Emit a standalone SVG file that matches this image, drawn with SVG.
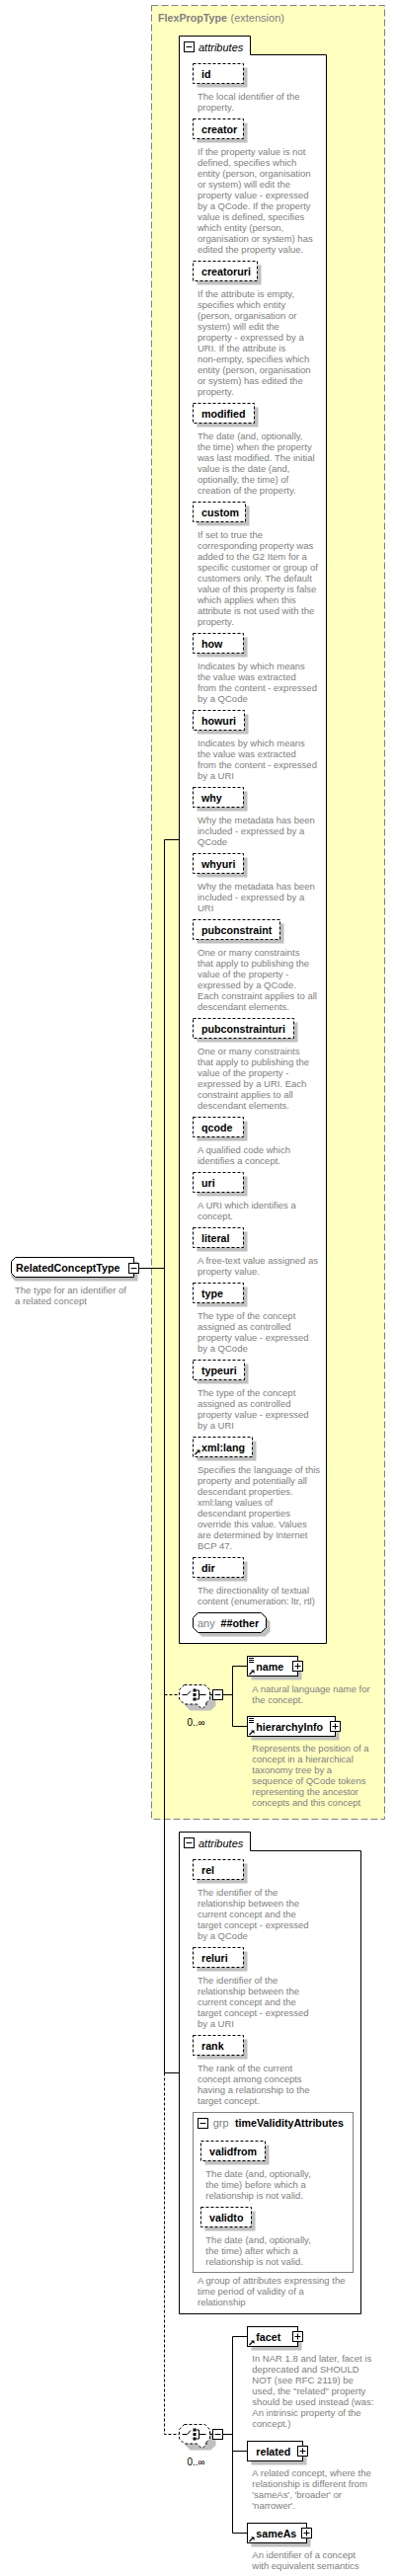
<svg xmlns="http://www.w3.org/2000/svg" xmlns:xlink="http://www.w3.org/1999/xlink" width="402" height="2609" viewBox="0 0 402 2609">
<style>
.ab{fill:#fff;stroke:#000;stroke-dasharray:3,2}
.el{fill:#fff;stroke:#000}
.sh{fill:#c0c0c0}
.ln{fill:none;stroke:#000}
.dl{fill:none;stroke:#000;stroke-dasharray:3,2}
.nm{font-family:"Liberation Sans",Arial,sans-serif;font-weight:bold;font-size:10.7px;fill:#000}
.ds{font-family:"Liberation Sans",Arial,sans-serif;font-size:9.5px;fill:#808080}
.it{font-family:"Liberation Sans",Arial,sans-serif;font-style:italic;font-size:11px;fill:#000}
.gr{font-family:"Liberation Sans",Arial,sans-serif;font-size:11px;fill:#808080}
.oc{font-family:"Liberation Sans",Arial,sans-serif;font-size:10px;fill:#000}
</style>
<defs>
<g id="plus"><rect x="0.5" y="0.5" width="10" height="10" fill="#fff" stroke="#000"/><path d="M2.5,5.5H8.5M5.5,2.5V8.5" stroke="#000"/></g>
<g id="minus"><rect x="0.5" y="0.5" width="10" height="10" fill="#fff" stroke="#000"/><path d="M2.5,5.5H8.5" stroke="#000"/></g>
<g id="arr"><path d="M0.5,5 L3.5,2" stroke="#000" stroke-width="1.2"/><path d="M2,0.5H5.5V4Z" fill="#000"/></g>
<g id="lines"><path d="M0,0.5H5M0,2.5H5M0,4.5H5" stroke="#000"/></g>
<g id="seq">
<path d="M186.5,-8.5H207.5L212.5,-3.5V5.5L207.5,10.5H186.5L181.5,5.5V-3.5Z" transform="translate(6,6)" class="sh"/>
<path d="M186.5,-9.5H207.5L212.5,-4.5V5L207.5,10H209.5L204.5,15L199.5,10H186.5L181.5,5V-4.5Z" fill="#fff" stroke="#000" stroke-dasharray="3,2"/>
<path d="M184.5,0.5H189.5L193,-3.5" class="ln"/>
<rect x="195.5" y="-5.5" width="3" height="3" fill="#000"/>
<rect x="195.5" y="-1" width="3" height="3" fill="#000"/>
<rect x="195.5" y="3.5" width="3" height="3" fill="#000"/>
<path d="M198.5,-4H201.5V5H198.5M201.5,0.5H208.5" class="ln"/>
<path d="M212.5,0.5H215.5" class="ln"/>
<use xlink:href="#minus" x="215" y="-5"/>
</g>
</defs>

<g id="FlexPropType">
<rect x="153.5" y="5.5" width="236" height="1837" fill="#ffffc0" stroke="#808080" stroke-dasharray="7,3"/>
<text x="160" y="22" class="nm" fill="#808080" style="fill:#808080">FlexPropType</text>
<text x="233.5" y="22" class="gr">(extension)</text>
</g>

<g id="connectors">
<path d="M140.5,1284.5H166.5" class="ln"/>
<path d="M166.5,850.5V2099.5M166.5,850.5H181.5M166.5,2099.5H181.5" class="ln"/>
<path d="M166.5,1716.5H181.5" class="dl"/>
<path d="M166.5,2099.5V2465.5H181.5" class="dl"/>
<path d="M225.5,1716.5H235.5M235.5,1687.5V1748.5M235.5,1687.5H250.5M235.5,1748.5H250.5" class="ln"/>
<path d="M225.5,2465.5H235.5M235.5,2366.5V2565.5M235.5,2366.5H250.5M235.5,2482.5H250.5M235.5,2565.5H250.5" class="ln"/>
</g>

<g id="RelatedConceptType">
<path d="M15.5,1277.5H139.5V1297.5H15.5L11.5,1293.5V1281.5Z" class="sh"/>
<path d="M15.5,1273.5H135.5V1293.5H15.5L11.5,1289.5V1277.5Z" class="el"/>
<text x="16" y="1288" class="nm">RelatedConceptType</text>
<use xlink:href="#minus" x="130" y="1279"/>
<text class="ds" x="15" y="1309.5">The type for an identifier of<tspan x="15" dy="11">a related concept</tspan></text>
</g>

<g id="attributes1">
<path d="M181.5,36.5H253.5V55.5H330.5V1664.5H181.5Z" class="el"/>
<use xlink:href="#minus" x="186" y="42"/>
<text x="201" y="51.5" class="it">attributes</text>
</g>

<g id="attr-id"><rect x="199.5" y="68.5" width="51" height="20" class="sh"/><rect x="195.5" y="64.5" width="51" height="20" class="ab"/><text x="204" y="79.2" class="nm">id</text>
<text class="ds" x="200" y="100.5">The local identifier of the<tspan x="200" dy="11">property.</tspan></text></g>

<g id="attr-creator"><rect x="199.5" y="124.5" width="51" height="20" class="sh"/><rect x="195.5" y="120.5" width="51" height="20" class="ab"/><text x="204" y="135.2" class="nm">creator</text>
<text class="ds" x="200" y="156.5">If the property value is not<tspan x="200" dy="11">defined, specifies which</tspan><tspan x="200" dy="11">entity (person, organisation</tspan><tspan x="200" dy="11">or system) will edit the</tspan><tspan x="200" dy="11">property value - expressed</tspan><tspan x="200" dy="11">by a QCode. If the property</tspan><tspan x="200" dy="11">value is defined, specifies</tspan><tspan x="200" dy="11">which entity (person,</tspan><tspan x="200" dy="11">organisation or system) has</tspan><tspan x="200" dy="11">edited the property value.</tspan></text></g>

<g id="attr-creatoruri"><rect x="199.5" y="268.5" width="65" height="20" class="sh"/><rect x="195.5" y="264.5" width="65" height="20" class="ab"/><text x="204" y="279.2" class="nm">creatoruri</text>
<text class="ds" x="200" y="300.5">If the attribute is empty,<tspan x="200" dy="11">specifies which entity</tspan><tspan x="200" dy="11">(person, organisation or</tspan><tspan x="200" dy="11">system) will edit the</tspan><tspan x="200" dy="11">property - expressed by a</tspan><tspan x="200" dy="11">URI. If the attribute is</tspan><tspan x="200" dy="11">non-empty, specifies which</tspan><tspan x="200" dy="11">entity (person, organisation</tspan><tspan x="200" dy="11">or system) has edited the</tspan><tspan x="200" dy="11">property.</tspan></text></g>

<g id="attr-modified"><rect x="199.5" y="412.5" width="62" height="20" class="sh"/><rect x="195.5" y="408.5" width="62" height="20" class="ab"/><text x="204" y="423.2" class="nm">modified</text>
<text class="ds" x="200" y="444.5">The date (and, optionally,<tspan x="200" dy="11">the time) when the property</tspan><tspan x="200" dy="11">was last modified. The initial</tspan><tspan x="200" dy="11">value is the date (and,</tspan><tspan x="200" dy="11">optionally, the time) of</tspan><tspan x="200" dy="11">creation of the property.</tspan></text></g>

<g id="attr-custom"><rect x="199.5" y="512.5" width="53" height="20" class="sh"/><rect x="195.5" y="508.5" width="53" height="20" class="ab"/><text x="204" y="523.2" class="nm">custom</text>
<text class="ds" x="200" y="544.5">If set to true the<tspan x="200" dy="11">corresponding property was</tspan><tspan x="200" dy="11">added to the G2 Item for a</tspan><tspan x="200" dy="11">specific customer or group of</tspan><tspan x="200" dy="11">customers only. The default</tspan><tspan x="200" dy="11">value of this property is false</tspan><tspan x="200" dy="11">which applies when this</tspan><tspan x="200" dy="11">attribute is not used with the</tspan><tspan x="200" dy="11">property.</tspan></text></g>

<g id="attr-how"><rect x="199.5" y="645.5" width="51" height="20" class="sh"/><rect x="195.5" y="641.5" width="51" height="20" class="ab"/><text x="204" y="656.2" class="nm">how</text>
<text class="ds" x="200" y="677.5">Indicates by which means<tspan x="200" dy="11">the value was extracted</tspan><tspan x="200" dy="11">from the content - expressed</tspan><tspan x="200" dy="11">by a QCode</tspan></text></g>

<g id="attr-howuri"><rect x="199.5" y="723.5" width="52" height="20" class="sh"/><rect x="195.5" y="719.5" width="52" height="20" class="ab"/><text x="204" y="734.2" class="nm">howuri</text>
<text class="ds" x="200" y="755.5">Indicates by which means<tspan x="200" dy="11">the value was extracted</tspan><tspan x="200" dy="11">from the content - expressed</tspan><tspan x="200" dy="11">by a URI</tspan></text></g>

<g id="attr-why"><rect x="199.5" y="801.5" width="51" height="20" class="sh"/><rect x="195.5" y="797.5" width="51" height="20" class="ab"/><text x="204" y="812.2" class="nm">why</text>
<text class="ds" x="200" y="833.5">Why the metadata has been<tspan x="200" dy="11">included - expressed by a</tspan><tspan x="200" dy="11">QCode</tspan></text></g>

<g id="attr-whyuri"><rect x="199.5" y="868.5" width="51" height="20" class="sh"/><rect x="195.5" y="864.5" width="51" height="20" class="ab"/><text x="204" y="879.2" class="nm">whyuri</text>
<text class="ds" x="200" y="900.5">Why the metadata has been<tspan x="200" dy="11">included - expressed by a</tspan><tspan x="200" dy="11">URI</tspan></text></g>

<g id="attr-pubconstraint"><rect x="199.5" y="935.5" width="88" height="20" class="sh"/><rect x="195.5" y="931.5" width="88" height="20" class="ab"/><text x="204" y="946.2" class="nm">pubconstraint</text>
<text class="ds" x="200" y="967.5">One or many constraints<tspan x="200" dy="11">that apply to publishing the</tspan><tspan x="200" dy="11">value of the property -</tspan><tspan x="200" dy="11">expressed by a QCode.</tspan><tspan x="200" dy="11">Each constraint applies to all</tspan><tspan x="200" dy="11">descendant elements.</tspan></text></g>

<g id="attr-pubconstrainturi"><rect x="199.5" y="1035.5" width="102" height="20" class="sh"/><rect x="195.5" y="1031.5" width="102" height="20" class="ab"/><text x="204" y="1046.2" class="nm">pubconstrainturi</text>
<text class="ds" x="200" y="1067.5">One or many constraints<tspan x="200" dy="11">that apply to publishing the</tspan><tspan x="200" dy="11">value of the property -</tspan><tspan x="200" dy="11">expressed by a URI. Each</tspan><tspan x="200" dy="11">constraint applies to all</tspan><tspan x="200" dy="11">descendant elements.</tspan></text></g>

<g id="attr-qcode"><rect x="199.5" y="1135.5" width="51" height="20" class="sh"/><rect x="195.5" y="1131.5" width="51" height="20" class="ab"/><text x="204" y="1146.2" class="nm">qcode</text>
<text class="ds" x="200" y="1167.5">A qualified code which<tspan x="200" dy="11">identifies a concept.</tspan></text></g>

<g id="attr-uri"><rect x="199.5" y="1191.5" width="51" height="20" class="sh"/><rect x="195.5" y="1187.5" width="51" height="20" class="ab"/><text x="204" y="1202.2" class="nm">uri</text>
<text class="ds" x="200" y="1223.5">A URI which identifies a<tspan x="200" dy="11">concept.</tspan></text></g>

<g id="attr-literal"><rect x="199.5" y="1247.5" width="51" height="20" class="sh"/><rect x="195.5" y="1243.5" width="51" height="20" class="ab"/><text x="204" y="1258.2" class="nm">literal</text>
<text class="ds" x="200" y="1279.5">A free-text value assigned as<tspan x="200" dy="11">property value.</tspan></text></g>

<g id="attr-type"><rect x="199.5" y="1303.5" width="51" height="20" class="sh"/><rect x="195.5" y="1299.5" width="51" height="20" class="ab"/><text x="204" y="1314.2" class="nm">type</text>
<text class="ds" x="200" y="1335.5">The type of the concept<tspan x="200" dy="11">assigned as controlled</tspan><tspan x="200" dy="11">property value - expressed</tspan><tspan x="200" dy="11">by a QCode</tspan></text></g>

<g id="attr-typeuri"><rect x="199.5" y="1381.5" width="52" height="20" class="sh"/><rect x="195.5" y="1377.5" width="52" height="20" class="ab"/><text x="204" y="1392.2" class="nm">typeuri</text>
<text class="ds" x="200" y="1413.5">The type of the concept<tspan x="200" dy="11">assigned as controlled</tspan><tspan x="200" dy="11">property value - expressed</tspan><tspan x="200" dy="11">by a URI</tspan></text></g>

<g id="attr-xmllang"><rect x="199.5" y="1459.5" width="60" height="20" class="sh"/><rect x="195.5" y="1455.5" width="60" height="20" class="ab"/><text x="204" y="1470.2" class="nm">xml:lang</text><use xlink:href="#arr" x="197" y="1468"/>
<text class="ds" x="200" y="1491.5">Specifies the language of this<tspan x="200" dy="11">property and potentially all</tspan><tspan x="200" dy="11">descendant properties.</tspan><tspan x="200" dy="11">xml:lang values of</tspan><tspan x="200" dy="11">descendant properties</tspan><tspan x="200" dy="11">override this value. Values</tspan><tspan x="200" dy="11">are determined by Internet</tspan><tspan x="200" dy="11">BCP 47.</tspan></text></g>

<g id="attr-dir"><rect x="199.5" y="1581.5" width="51" height="20" class="sh"/><rect x="195.5" y="1577.5" width="51" height="20" class="ab"/><text x="204" y="1592.2" class="nm">dir</text>
<text class="ds" x="200" y="1613.5">The directionality of textual<tspan x="200" dy="11">content (enumeration: ltr, rtl)</tspan></text></g>

<g id="any-other">
<path d="M204.5,1637.5H268.5L273.5,1642.5V1652.5L268.5,1657.5H204.5L199.5,1652.5V1642.5Z" class="sh"/>
<path d="M200.5,1633.5H264.5L269.5,1638.5V1648.5L264.5,1653.5H200.5L195.5,1648.5V1638.5Z" class="el"/>
<text x="200" y="1648" class="gr">any</text>
<text x="223.5" y="1648" class="nm">##other</text>
</g>

<g id="sequence1">
<use xlink:href="#seq" x="0" y="1716"/>
<text x="189.5" y="1747.5" class="oc">0..∞</text>
</g>

<g id="el-name"><rect x="254.5" y="1681.5" width="51" height="20" class="sh"/><rect x="250.5" y="1677.5" width="51" height="20" class="el"/><use xlink:href="#lines" x="252" y="1679"/><use xlink:href="#arr" x="252" y="1691"/><text x="259.3" y="1692.2" class="nm">name</text><use xlink:href="#plus" x="296" y="1682"/>
<text class="ds" x="255.3" y="1713.5">A natural language name for<tspan x="255.3" dy="11">the concept.</tspan></text></g>

<g id="el-hierarchyInfo"><rect x="254.5" y="1742.5" width="89" height="20" class="sh"/><rect x="250.5" y="1738.5" width="89" height="20" class="el"/><use xlink:href="#lines" x="252" y="1740"/><use xlink:href="#arr" x="252" y="1752"/><text x="259.3" y="1753.2" class="nm">hierarchyInfo</text><use xlink:href="#plus" x="334" y="1743"/>
<text class="ds" x="255.3" y="1774.2">Represents the position of a<tspan x="255.3" dy="11">concept in a hierarchical</tspan><tspan x="255.3" dy="11">taxonomy tree by a</tspan><tspan x="255.3" dy="11">sequence of QCode tokens</tspan><tspan x="255.3" dy="11">representing the ancestor</tspan><tspan x="255.3" dy="11">concepts and this concept</tspan></text></g>

<g id="attributes2">
<path d="M181.5,1855.5H253.5V1874.5H365.5V2343.5H181.5Z" class="el"/>
<use xlink:href="#minus" x="186" y="1861"/>
<text x="201" y="1870.5" class="it">attributes</text>
</g>

<g id="attr-rel"><rect x="199.5" y="1887.5" width="51" height="20" class="sh"/><rect x="195.5" y="1883.5" width="51" height="20" class="ab"/><text x="204" y="1898.2" class="nm">rel</text>
<text class="ds" x="200" y="1919.5">The identifier of the<tspan x="200" dy="11">relationship between the</tspan><tspan x="200" dy="11">current concept and the</tspan><tspan x="200" dy="11">target concept - expressed</tspan><tspan x="200" dy="11">by a QCode</tspan></text></g>

<g id="attr-reluri"><rect x="199.5" y="1976.5" width="51" height="20" class="sh"/><rect x="195.5" y="1972.5" width="51" height="20" class="ab"/><text x="204" y="1987.2" class="nm">reluri</text>
<text class="ds" x="200" y="2008.5">The identifier of the<tspan x="200" dy="11">relationship between the</tspan><tspan x="200" dy="11">current concept and the</tspan><tspan x="200" dy="11">target concept - expressed</tspan><tspan x="200" dy="11">by a URI</tspan></text></g>

<g id="attr-rank"><rect x="199.5" y="2065.5" width="51" height="20" class="sh"/><rect x="195.5" y="2061.5" width="51" height="20" class="ab"/><text x="204" y="2076.2" class="nm">rank</text>
<text class="ds" x="200" y="2097.5">The rank of the current<tspan x="200" dy="11">concept among concepts</tspan><tspan x="200" dy="11">having a relationship to the</tspan><tspan x="200" dy="11">target concept.</tspan></text></g>

<g id="grp-timeValidityAttributes">
<rect x="195.5" y="2139.5" width="162" height="162" fill="#fff" stroke="#808080"/>
<use xlink:href="#minus" x="200" y="2145"/>
<text x="215.7" y="2154" class="gr">grp</text>
<text x="238" y="2154" class="nm">timeValidityAttributes</text>
<text class="ds" x="200" y="2313.2">A group of attributes expressing the<tspan x="200" dy="11">time period of validity of a</tspan><tspan x="200" dy="11">relationship</tspan></text>
</g>

<g id="attr-validfrom"><rect x="207.5" y="2172.5" width="65" height="20" class="sh"/><rect x="203.5" y="2168.5" width="65" height="20" class="ab"/><text x="212" y="2183.2" class="nm">validfrom</text>
<text class="ds" x="208.3" y="2204.5">The date (and, optionally,<tspan x="208.3" dy="11">the time) before which a</tspan><tspan x="208.3" dy="11">relationship is not valid.</tspan></text></g>

<g id="attr-validto"><rect x="207.5" y="2239.5" width="51" height="20" class="sh"/><rect x="203.5" y="2235.5" width="51" height="20" class="ab"/><text x="212" y="2250.2" class="nm">validto</text>
<text class="ds" x="208.3" y="2271.5">The date (and, optionally,<tspan x="208.3" dy="11">the time) after which a</tspan><tspan x="208.3" dy="11">relationship is not valid.</tspan></text></g>

<g id="sequence2">
<use xlink:href="#seq" x="0" y="2465"/>
<text x="189.5" y="2496.5" class="oc">0..∞</text>
</g>

<g id="el-facet"><rect x="254.5" y="2360.5" width="51" height="20" class="sh"/><rect x="250.5" y="2356.5" width="51" height="20" class="el"/><use xlink:href="#arr" x="252" y="2370"/><text x="259.3" y="2371.2" class="nm">facet</text><use xlink:href="#plus" x="296" y="2361"/>
<text class="ds" x="255.3" y="2392.2">In NAR 1.8 and later, facet is<tspan x="255.3" dy="11">deprecated and SHOULD</tspan><tspan x="255.3" dy="11">NOT (see RFC 2119) be</tspan><tspan x="255.3" dy="11">used, the "related" property</tspan><tspan x="255.3" dy="11">should be used instead (was:</tspan><tspan x="255.3" dy="11">An intrinsic property of the</tspan><tspan x="255.3" dy="11">concept.)</tspan></text></g>

<g id="el-related"><rect x="254.5" y="2476.5" width="56" height="20" class="sh"/><rect x="250.5" y="2472.5" width="56" height="20" class="el"/><text x="259.3" y="2487.2" class="nm">related</text><use xlink:href="#plus" x="301" y="2477"/>
<text class="ds" x="255.3" y="2508.2">A related concept, where the<tspan x="255.3" dy="11">relationship is different from</tspan><tspan x="255.3" dy="11">'sameAs', 'broader' or</tspan><tspan x="255.3" dy="11">'narrower'.</tspan></text></g>

<g id="el-sameAs"><rect x="254.5" y="2559.5" width="60" height="20" class="sh"/><rect x="250.5" y="2555.5" width="60" height="20" class="el"/><use xlink:href="#arr" x="252" y="2569"/><text x="259.3" y="2570.2" class="nm">sameAs</text><use xlink:href="#plus" x="305" y="2560"/>
<text class="ds" x="255.3" y="2591.2">An identifier of a concept<tspan x="255.3" dy="11">with equivalent semantics</tspan></text></g>
</svg>
